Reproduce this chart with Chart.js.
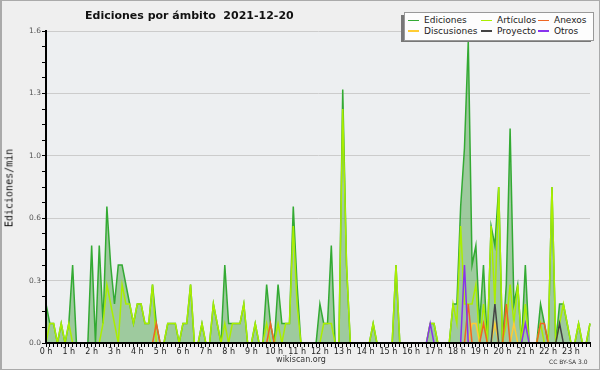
<!DOCTYPE html>
<html>
<head>
<meta charset="utf-8">
<script src="https://cdn.jsdelivr.net/npm/chart.js@4"></script>
<style>
  body { margin: 0; background: #efefef; }
  #marco { position: relative; width: 600px; height: 370px; background: #efefef; overflow: hidden; }
  #grafica { position: absolute; left: 0; top: 0; }
  #borde { position: absolute; left: 0; top: 0; width: 600px; height: 370px; box-sizing: border-box;
           border: 1px solid #aaa; border-left-width: 2px; pointer-events: none; }
  #titulo { position: absolute; left: 85px; top: 9px; font: bold 11px "DejaVu Sans"; line-height: 13px; color: #111; white-space: nowrap; }
  #tituloY { position: absolute; left: 9px; top: 188px; font: 10px "DejaVu Sans Mono"; color: #111; white-space: nowrap;
             transform: translate(-50%, -50%) rotate(-90deg); }
  #pie { position: absolute; left: 301px; top: 355px; transform: translateX(-50%); font: 8px "DejaVu Sans"; color: #333; white-space: nowrap; }
  #licencia { position: absolute; left: 549px; top: 358px; font: 6px "DejaVu Sans"; color: #333; white-space: nowrap; }
  #sombra { position: absolute; left: 401px; top: 15px; width: 190px; height: 27px; background: #777; }
  #leyenda { position: absolute; left: 404px; top: 12px; width: 185px; height: 25px; background: #fdfdfd; border: 1px solid #999;
             display: grid; grid-template-columns: 73px 57px 1fr; grid-auto-rows: 10.5px; padding: 2px 0 0 3px; box-sizing: content-box; }
  .item { font: 9px "DejaVu Sans"; color: #222; white-space: nowrap; display: flex; align-items: center; }
  .muestra { display: inline-block; width: 11px; height: 1.5px; margin-right: 5px; }
</style>
</head>
<body>
<div id="marco">
  <canvas id="grafica" width="600" height="370"></canvas>
  <div id="titulo">Ediciones por ámbito&nbsp;&nbsp;2021-12-20</div>
  <div id="tituloY">Ediciones/min</div>
  <div id="sombra"></div>
  <div id="leyenda"></div>
  <div id="pie">wikiscan.org</div>
  <div id="licencia">CC BY-SA 3.0</div>
  <div id="borde"></div>
</div>
<script>
// etiquetas de las horas (una cada 6 intervalos de 10 min)
const horas = ['0 h', '1 h', '2 h', '3 h', '4 h', '5 h', '6 h', '7 h', '8 h', '9 h', '10 h', '11 h',
    '12 h', '13 h', '14 h', '15 h', '16 h', '17 h', '18 h', '19 h', '20 h', '21 h', '22 h', '23 h'];

const nombres = ['Ediciones', 'Artículos', 'Anexos', 'Discusiones', 'Proyecto', 'Otros'];
const colores = ['#33aa33', '#aaee00', '#ee6622', '#ffcc33', '#444444', '#8833ee'];

// ediciones/min por intervalo de 10 minutos (2 horas por linea)
const ediciones = [
    0.2, 0.1, 0.1, 0, 0.1, 0, 0.1, 0.4, 0, 0, 0, 0,
    0.5, 0, 0.5, 0.1, 0.7, 0.4, 0.2, 0.4, 0.4, 0.3, 0.2, 0.1,
    0.2, 0.2, 0.1, 0.1, 0.3, 0.1, 0, 0, 0.1, 0.1, 0.1, 0,
    0.1, 0.1, 0.3, 0, 0, 0.1, 0, 0, 0.2, 0.1, 0, 0.4,
    0.1, 0.1, 0.1, 0.1, 0.2, 0, 0, 0.1, 0, 0, 0.3, 0.1,
    0, 0.3, 0.1, 0.1, 0.1, 0.7, 0.3, 0, 0, 0, 0, 0,
    0.2, 0.1, 0.1, 0.5, 0, 0, 1.3, 0.4, 0, 0, 0, 0,
    0, 0, 0.1, 0, 0, 0, 0, 0, 0.4, 0, 0, 0,
    0, 0, 0, 0, 0, 0.1, 0.1, 0, 0, 0, 0, 0.2,
    0.2, 0.7, 1.0, 1.55, 0.4, 0.5, 0.1, 0.4, 0, 0.6, 0.5, 0.8,
    0, 0.3, 1.1, 0.2, 0.3, 0, 0.4, 0, 0, 0, 0.2, 0.1,
    0, 0.8, 0, 0.2, 0.2, 0.1, 0, 0, 0.1, 0, 0, 0.1
];

const articulos = [
    0, 0.1, 0.1, 0, 0.1, 0, 0.1, 0, 0, 0, 0, 0,
    0, 0, 0, 0.1, 0.3, 0.2, 0.1, 0, 0.3, 0.2, 0.2, 0.1,
    0.2, 0.2, 0.1, 0.1, 0.3, 0, 0, 0, 0.1, 0.1, 0.1, 0,
    0.1, 0.1, 0.3, 0, 0, 0.1, 0, 0, 0.2, 0.1, 0, 0.1,
    0, 0.1, 0.1, 0.1, 0.2, 0, 0, 0.1, 0, 0, 0.1, 0,
    0, 0.1, 0, 0.1, 0.1, 0.6, 0.2, 0, 0, 0, 0, 0,
    0, 0.1, 0.1, 0.1, 0, 0, 1.2, 0.4, 0, 0, 0, 0,
    0, 0, 0.1, 0, 0, 0, 0, 0, 0.4, 0, 0, 0,
    0, 0, 0, 0, 0, 0.1, 0.1, 0, 0, 0, 0, 0.2,
    0.1, 0.6, 0.2, 0.2, 0.2, 0.3, 0, 0.2, 0, 0.6, 0.2, 0.8,
    0, 0.1, 0.3, 0.1, 0.3, 0, 0.2, 0, 0, 0, 0.1, 0,
    0, 0.8, 0, 0.1, 0.2, 0.1, 0, 0, 0.1, 0, 0, 0.1
];

const anexos = [
    0, 0, 0, 0, 0, 0, 0, 0, 0, 0, 0, 0,
    0, 0, 0, 0, 0, 0, 0, 0, 0, 0, 0, 0,
    0, 0, 0, 0, 0, 0.1, 0, 0, 0, 0, 0, 0,
    0, 0, 0, 0, 0, 0, 0, 0, 0, 0, 0, 0,
    0, 0, 0, 0, 0, 0, 0, 0, 0, 0, 0, 0.1,
    0, 0, 0, 0, 0, 0, 0, 0, 0, 0, 0, 0,
    0, 0, 0, 0, 0, 0, 0, 0, 0, 0, 0, 0,
    0, 0, 0, 0, 0, 0, 0, 0, 0, 0, 0, 0,
    0, 0, 0, 0, 0, 0, 0, 0, 0, 0, 0, 0,
    0, 0, 0, 0.2, 0, 0, 0, 0.1, 0, 0, 0, 0,
    0, 0.2, 0, 0, 0, 0, 0, 0, 0, 0, 0.1, 0.1,
    0, 0, 0, 0, 0, 0, 0, 0, 0, 0, 0, 0
];

const discusiones = [
    0, 0, 0, 0, 0, 0, 0, 0, 0, 0, 0, 0,
    0, 0, 0, 0, 0, 0, 0, 0, 0, 0, 0, 0,
    0, 0, 0, 0, 0, 0, 0, 0, 0, 0, 0, 0,
    0, 0, 0, 0, 0, 0, 0, 0, 0, 0, 0, 0,
    0, 0, 0, 0, 0, 0, 0, 0, 0, 0, 0, 0,
    0, 0, 0, 0, 0, 0, 0, 0, 0, 0, 0, 0,
    0, 0, 0, 0, 0, 0, 0, 0, 0, 0, 0, 0,
    0, 0, 0, 0, 0, 0, 0, 0, 0, 0, 0, 0,
    0, 0, 0, 0, 0, 0, 0, 0, 0, 0, 0, 0,
    0, 0, 0, 0, 0.1, 0.1, 0, 0, 0, 0, 0.1, 0,
    0, 0, 0, 0.1, 0, 0, 0, 0, 0, 0, 0, 0,
    0, 0, 0, 0, 0, 0, 0, 0, 0, 0, 0, 0
];

const proyecto = [
    0, 0, 0, 0, 0, 0, 0, 0, 0, 0, 0, 0,
    0, 0, 0, 0, 0, 0, 0, 0, 0, 0, 0, 0,
    0, 0, 0, 0, 0, 0, 0, 0, 0, 0, 0, 0,
    0, 0, 0, 0, 0, 0, 0, 0, 0, 0, 0, 0,
    0, 0, 0, 0, 0, 0, 0, 0, 0, 0, 0, 0,
    0, 0, 0, 0, 0, 0, 0, 0, 0, 0, 0, 0,
    0, 0, 0, 0, 0, 0, 0, 0, 0, 0, 0, 0,
    0, 0, 0, 0, 0, 0, 0, 0, 0, 0, 0, 0,
    0, 0, 0, 0, 0, 0, 0, 0, 0, 0, 0, 0,
    0, 0, 0, 0, 0, 0, 0, 0, 0, 0, 0.2, 0,
    0, 0, 0, 0, 0, 0, 0, 0, 0, 0, 0, 0,
    0, 0, 0, 0.1, 0, 0, 0, 0, 0, 0, 0, 0
];

const otros = [
    0, 0, 0, 0, 0, 0, 0, 0, 0, 0, 0, 0,
    0, 0, 0, 0, 0, 0, 0, 0, 0, 0, 0, 0,
    0, 0, 0, 0, 0, 0, 0, 0, 0, 0, 0, 0,
    0, 0, 0, 0, 0, 0, 0, 0, 0, 0, 0, 0,
    0, 0, 0, 0, 0, 0, 0, 0, 0, 0, 0, 0,
    0, 0, 0, 0, 0, 0, 0, 0, 0, 0, 0, 0,
    0, 0, 0, 0, 0, 0, 0, 0, 0, 0, 0, 0,
    0, 0, 0, 0, 0, 0, 0, 0, 0, 0, 0, 0,
    0, 0, 0, 0, 0, 0.1, 0, 0, 0, 0, 0, 0,
    0, 0, 0.4, 0, 0, 0, 0, 0, 0, 0, 0, 0,
    0, 0, 0, 0, 0, 0, 0.1, 0, 0, 0, 0, 0,
    0, 0, 0, 0, 0, 0, 0, 0, 0, 0, 0, 0
];

const series = [ediciones, articulos, anexos, discusiones, proyecto, otros];
// orden de dibujo: Ediciones al fondo, Otros encima
const ordenDibujo = [6, 5, 3, 4, 2, 1];

function puntos(valores) {
    return valores.map((v, i) => ({ x: i, y: v }));
}

const datasets = series.map((valores, k) => ({
    label: nombres[k],
    data: puntos(valores),
    borderColor: colores[k],
    borderWidth: 1.5,
    pointRadius: 0,
    tension: 0,
    fill: k === 0 ? 'origin' : false,
    backgroundColor: k === 0 ? 'rgba(80,165,75,0.5)' : colores[k],
    order: ordenDibujo[k],
    // recorta un poco por abajo para que las lineas en cero no se vean sobre el eje
    clip: { left: 1, right: 1, top: 2, bottom: -1 },
}));

// fondo del area de la grafica
const fondoArea = {
    id: 'fondoArea',
    beforeDraw(chart) {
        const { ctx, chartArea } = chart;
        ctx.save();
        ctx.fillStyle = '#edeff1';
        ctx.fillRect(chartArea.left, chartArea.top, chartArea.right - chartArea.left, chartArea.bottom - chartArea.top);
        ctx.restore();
    }
};

const grafica = new Chart(document.getElementById('grafica'), {
    type: 'line',
    data: { datasets: datasets },
    plugins: [fondoArea],
    options: {
        responsive: false,
        animation: false,
        devicePixelRatio: 1,
        layout: { padding: { left: 0, top: 31, right: 10, bottom: 15 } },
        plugins: { legend: { display: false }, tooltip: { enabled: false } },
        scales: {
            x: {
                type: 'linear',
                min: 0,
                max: 143,
                afterFit: (escala) => { escala.height = 12; },
                border: { color: '#000', width: 2, z: 1 },
                grid: { drawOnChartArea: false, tickLength: 4, tickColor: '#000', tickWidth: 1 },
                ticks: {
                    stepSize: 1,
                    maxTicksLimit: 200,
                    autoSkip: false,
                    maxRotation: 0,
                    minRotation: 0,
                    padding: 0,
                    color: '#222',
                    font: { family: 'DejaVu Sans', size: 8 },
                    callback: (valor) => (valor % 6 === 0 ? horas[valor / 6] : ''),
                },
            },
            y: {
                min: 0,
                max: 1.6,
                afterFit: (escala) => { escala.width = 46; },
                border: { color: '#000', width: 2, z: 1 },
                grid: {
                    color: (c) => (c.index % 4 === 0 ? '#cccccc' : 'rgba(0,0,0,0)'),
                    tickColor: '#000',
                    tickLength: 4,
                    lineWidth: 1,
                },
                ticks: {
                    stepSize: 0.08,
                    maxTicksLimit: 100,
                    autoSkip: false,
                    padding: 1,
                    color: '#555',
                    font: { family: 'DejaVu Sans', size: 7.5 },
                    callback: (valor, indice) => (indice % 4 === 0 ? valor.toFixed(1) : ''),
                },
            },
        },
    },
});

// leyenda en html, 3 columnas como la original
const leyenda = document.getElementById('leyenda');
grafica.data.datasets.forEach((ds) => {
    const item = document.createElement('div');
    item.className = 'item';
    const muestra = document.createElement('span');
    muestra.className = 'muestra';
    muestra.style.background = ds.borderColor;
    item.appendChild(muestra);
    item.appendChild(document.createTextNode(ds.label));
    leyenda.appendChild(item);
});
</script>
</body>
</html>
